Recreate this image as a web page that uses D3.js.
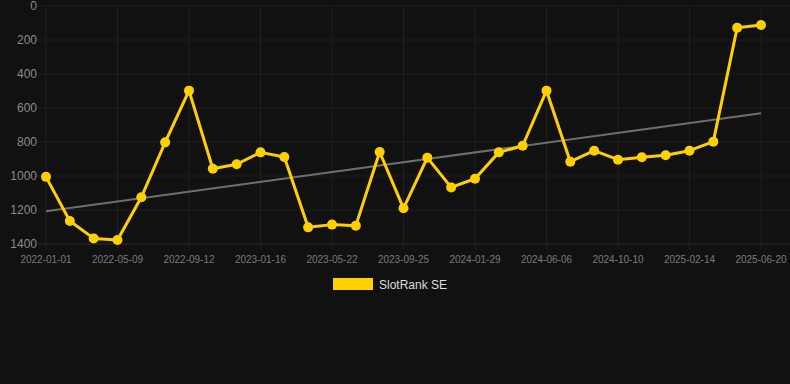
<!DOCTYPE html>
<html>
<head>
<meta charset="utf-8">
<script src="https://cdn.jsdelivr.net/npm/d3@7"></script>
<style>
  html, body { margin: 0; padding: 0; background: #111111; }
  svg { display: block; font-family: Arial, "Liberation Sans", sans-serif; }
</style>
</head>
<body>
<div id="stage"></div>
<script>
// data
const dates = [
  "2022-01-01", "2022-02-13", "2022-03-27", "2022-05-09", "2022-06-20", "2022-08-01",
  "2022-09-12", "2022-10-24", "2022-12-05", "2023-01-16", "2023-02-27", "2023-04-10",
  "2023-05-22", "2023-07-03", "2023-08-14", "2023-09-25", "2023-11-06", "2023-12-18",
  "2024-01-29", "2024-03-11", "2024-04-24", "2024-06-06", "2024-07-18", "2024-08-29",
  "2024-10-10", "2024-11-21", "2025-01-02", "2025-02-14", "2025-03-28", "2025-05-09",
  "2025-06-20"
];
const rankSE = [
  1005, 1265, 1367, 1376, 1125, 802, 498, 957, 931, 861, 888, 1302, 1286, 1292, 859,
  1190, 892, 1067, 1016, 861, 822, 498, 916, 851, 904, 890, 878, 851, 798, 128, 112
];
const yTicks = [0, 200, 400, 600, 800, 1000, 1200, 1400];
const seriesName = "SlotRank SE";

const width = 790, height = 384;
const margin = { top: 6, right: 29, bottom: 140, left: 46 };

const svg = d3.select("#stage").append("svg")
  .attr("width", width)
  .attr("height", height);

svg.append("rect").attr("width", width).attr("height", height).attr("fill", "#111111");

const x = d3.scalePoint().domain(dates).range([margin.left, width - margin.right]);
const y = d3.scaleLinear().domain([0, 1400]).range([margin.top, height - margin.bottom]);

const xTickVals = dates.filter((d, i) => i % 3 === 0);

// grid
const grid = svg.append("g");
grid.selectAll(".hg").data(yTicks).join("line")
  .attr("x1", margin.left - 8).attr("x2", width)
  .attr("y1", d => y(d)).attr("y2", d => y(d))
  .attr("stroke", d => d === 1400 ? "#2c2c2c" : "#1f1f1f")
  .attr("stroke-width", 1);
grid.selectAll(".vg").data(xTickVals).join("line")
  .attr("x1", d => x(d)).attr("x2", d => x(d))
  .attr("y1", margin.top).attr("y2", y(1400) + 5)
  .attr("stroke", "#1f1f1f")
  .attr("stroke-width", 1);

// y labels
svg.append("g").selectAll("text").data(yTicks).join("text")
  .attr("x", 37).attr("y", d => y(d))
  .attr("dy", "0.35em")
  .attr("text-anchor", "end")
  .attr("font-size", 12)
  .attr("fill", "#8a8a8a")
  .text(d => d);

// x labels
svg.append("g").selectAll("text").data(xTickVals).join("text")
  .attr("x", d => x(d)).attr("y", y(1400) + 19)
  .attr("text-anchor", "middle")
  .attr("font-size", 10)
  .attr("fill", "#7a7a7a")
  .text(d => d);

// linear trend (least squares over index)
const n = rankSE.length;
const mx = d3.mean(rankSE, (d, i) => i);
const my = d3.mean(rankSE);
const slope = d3.sum(rankSE, (d, i) => (i - mx) * (d - my)) / d3.sum(rankSE, (d, i) => (i - mx) * (i - mx));
const icpt = my - slope * mx;
svg.append("line")
  .attr("x1", x(dates[0])).attr("y1", y(icpt))
  .attr("x2", x(dates[n - 1])).attr("y2", y(icpt + slope * (n - 1)))
  .attr("stroke", "#6e6e6e")
  .attr("stroke-width", 2);

// series
const line = d3.line()
  .x((d, i) => x(dates[i]))
  .y(d => y(d));

svg.append("path")
  .attr("d", line(rankSE))
  .attr("fill", "none")
  .attr("stroke", "#ffd000")
  .attr("stroke-width", 3)
  .attr("stroke-linejoin", "round");

svg.append("g").selectAll("circle").data(rankSE).join("circle")
  .attr("cx", (d, i) => x(dates[i]))
  .attr("cy", d => y(d))
  .attr("r", 5)
  .attr("fill", "#ffd000");

// legend
const lg = svg.append("g");
lg.append("rect")
  .attr("x", 333).attr("y", 278)
  .attr("width", 40).attr("height", 12)
  .attr("fill", "#ffd000");
lg.append("text")
  .attr("x", 379).attr("y", 288.5)
  .attr("font-size", 12)
  .attr("fill", "#dddddd")
  .text(seriesName);
</script>
</body>
</html>
